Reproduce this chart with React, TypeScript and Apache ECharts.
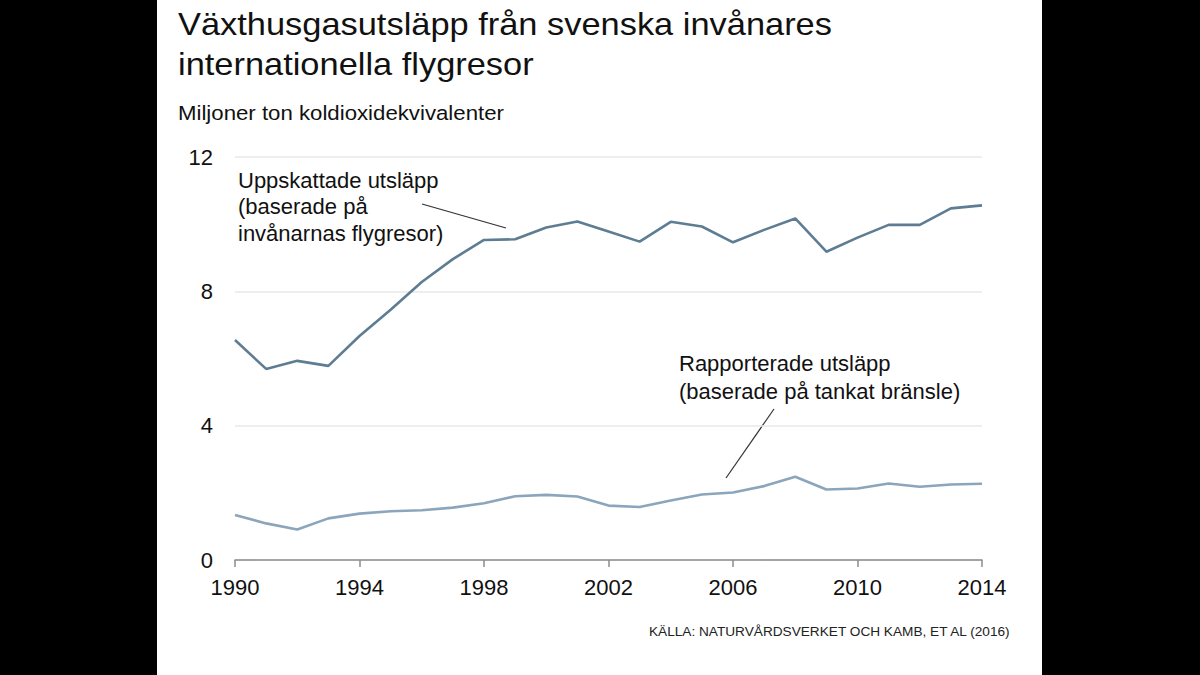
import React, { useEffect, useRef } from "react";
import * as echarts from "echarts";

const years = [
  "1990", "1991", "1992", "1993", "1994", "1995", "1996", "1997", "1998", "1999",
  "2000", "2001", "2002", "2003", "2004", "2005", "2006", "2007", "2008", "2009",
  "2010", "2011", "2012", "2013", "2014",
];
const estimated = [
  6.55, 5.69, 5.93, 5.78, 6.67, 7.45, 8.28, 8.96, 9.53, 9.55,
  9.9, 10.08, 9.78, 9.48, 10.07, 9.93, 9.46, 9.83, 10.17, 9.18,
  9.6, 9.98, 9.98, 10.47, 10.56,
];
const reported = [
  1.34, 1.09, 0.91, 1.24, 1.38, 1.45, 1.48, 1.56, 1.69, 1.9,
  1.94, 1.89, 1.62, 1.58, 1.77, 1.95, 2.01, 2.2, 2.48, 2.1,
  2.13, 2.28, 2.18, 2.25, 2.27,
];
const yTicks = [0, 4, 8, 12];

const FONT = "Liberation Sans, Arial, sans-serif";

export default function App() {
  const ref = useRef<HTMLDivElement>(null);
  useEffect(() => {
    const chart = echarts.init(ref.current!, null, { renderer: "svg" });
    chart.setOption({
      animation: false,
      backgroundColor: "#000000",
      textStyle: { fontFamily: FONT },
      grid: { left: 235, right: 218, top: 157, bottom: 115, containLabel: false },
      xAxis: {
        type: "category",
        data: years,
        boundaryGap: false,
        axisLine: { show: true, lineStyle: { color: "#8c8c8c", width: 1.5 } },
        axisTick: { show: true, interval: 3, length: 7, lineStyle: { color: "#8c8c8c", width: 1.5 } },
        axisLabel: { interval: 3, color: "#111", fontSize: 22, margin: 16, fontFamily: FONT },
        splitLine: { show: false },
      },
      yAxis: {
        type: "value",
        min: 0,
        max: 12,
        interval: 4,
        axisLine: { show: false },
        axisTick: { show: false },
        axisLabel: {
          color: "#111",
          fontSize: 22,
          margin: 22,
          fontFamily: FONT,
          formatter: (v: number) => (yTicks.includes(v) ? String(v) : ""),
        },
        splitLine: { show: true, lineStyle: { color: "#e8e8e8", width: 1.5 } },
      },
      graphic: [
        { type: "rect", z: -10, shape: { x: 157, y: 0, width: 885, height: 675 }, style: { fill: "#ffffff" } },
        {
          type: "text", x: 178, y: 4, scaleX: 1.075,
          style: { text: "Växthusgasutsläpp från svenska invånares\ninternationella flygresor", font: `32px ${FONT}`, fill: "#111", lineHeight: 40 },
        },
        {
          type: "text", x: 178, y: 103, scaleX: 1.14,
          style: { text: "Miljoner ton koldioxidekvivalenter", font: `19.5px ${FONT}`, fill: "#111" },
        },
        {
          type: "text", x: 238, y: 167,
          style: { text: "Uppskattade utsläpp\n(baserade på\ninvånarnas flygresor)", font: `22px ${FONT}`, fill: "#111", lineHeight: 26.5 },
        },
        { type: "line", shape: { x1: 422, y1: 204, x2: 506, y2: 228 }, style: { stroke: "#333", lineWidth: 1.2 } },
        {
          type: "text", x: 679, y: 349,
          style: { text: "Rapporterade utsläpp\n(baserade på tankat bränsle)", font: `22px ${FONT}`, fill: "#111", lineHeight: 28.5 },
        },
        { type: "line", shape: { x1: 774, y1: 409, x2: 726, y2: 478 }, style: { stroke: "#333", lineWidth: 1.2 } },
        {
          type: "text", x: 649, y: 625, scaleX: 1.05,
          style: { text: "KÄLLA: NATURVÅRDSVERKET OCH KAMB, ET AL (2016)", font: `13px ${FONT}`, fill: "#222" },
        },
      ],
      series: [
        {
          name: "Uppskattade utsläpp",
          type: "line",
          data: estimated,
          symbol: "none",
          lineStyle: { color: "#5e7d93", width: 2.6 },
        },
        {
          name: "Rapporterade utsläpp",
          type: "line",
          data: reported,
          symbol: "none",
          lineStyle: { color: "#8ba6bc", width: 2.6 },
        },
      ],
    });
    return () => chart.dispose();
  }, []);
  return (
    <div style={{ position: "absolute", left: 0, top: 0, width: 1200, height: 675 }}>
      <div ref={ref} style={{ width: 1200, height: 675 }} />
    </div>
  );
}
